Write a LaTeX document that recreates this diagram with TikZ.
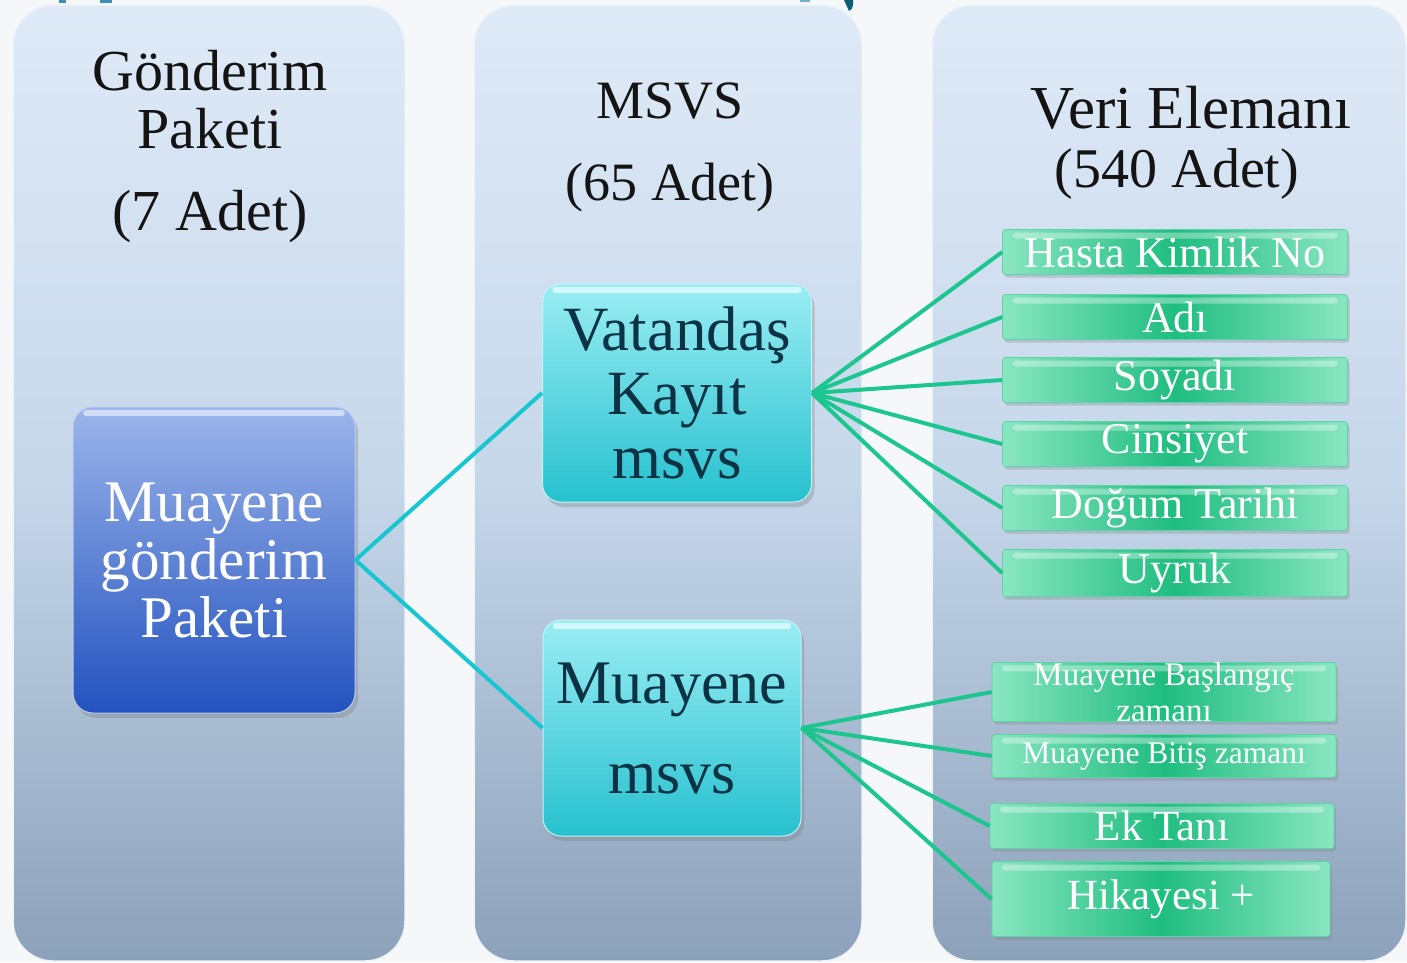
\documentclass[tikz,border=0pt]{standalone}
\usepackage{fontspec}
\setmainfont{Liberation Serif}
\usetikzlibrary{shadings,shadows}
\definecolor{bgc}{HTML}{F6F7F8}
\definecolor{colTop}{HTML}{DFEAF7}
\definecolor{colMid}{HTML}{C6D7EA}
\definecolor{colBot}{HTML}{8CA1BA}
\definecolor{colRim}{HTML}{EEF4FB}
\definecolor{blueTop}{HTML}{9CB5EA}
\definecolor{blueBot}{HTML}{2352BF}
\definecolor{cyanTop}{HTML}{9AEDF3}
\definecolor{cyanBot}{HTML}{27C1CF}
\definecolor{cyanText}{HTML}{0B3345}
\definecolor{gEdge}{HTML}{8AE6C2}
\definecolor{gMid}{HTML}{1FBD80}
\definecolor{gLine}{HTML}{5FD3A6}
\definecolor{cyanLink}{HTML}{17C6D0}
\definecolor{greenLink}{HTML}{1CC68E}
\definecolor{topBlue}{HTML}{3A8FB5}
\definecolor{topTeal}{HTML}{0D5F78}
\begin{document}
\begin{tikzpicture}[x=1pt,y=-1pt,
  column/.style={top color=colTop, bottom color=colBot, middle color=colMid, draw=colRim, line width=1.5pt},
  header/.style={anchor=base, text=black!92, font=\fontsize{58}{62}\selectfont, inner sep=0pt},
  gloss/.style={path picture={\fill[white, opacity=#1, rounded corners=3pt]
      ([xshift=10pt,yshift=-3pt]path picture bounding box.north west) rectangle
      ([xshift=-10pt,yshift=-9pt]path picture bounding box.north east);}},
  paketbox/.style={rectangle, rounded corners=20pt, minimum width=282pt, minimum height=306pt,
     top color=blueTop, bottom color=blueBot, draw=blueTop!70!white, line width=1pt,
     text=white, align=center, inner sep=0pt, font=\fontsize{59}{58}\selectfont, gloss=0.55,
     drop shadow={shadow xshift=3pt, shadow yshift=-5pt, opacity=0.35}},
  msvsbox/.style={rectangle, rounded corners=18pt, top color=cyanTop, bottom color=cyanBot,
     draw=cyanTop!60!white, line width=1pt, text=cyanText, align=center, inner sep=0pt, gloss=0.6,
     drop shadow={shadow xshift=3pt, shadow yshift=-5pt, opacity=0.35}},
  gbox/.style={rectangle, rounded corners=3pt, minimum width=345pt, minimum height=45pt,
     left color=gEdge, right color=gEdge, middle color=gMid, draw=gLine, line width=0.8pt,
     text=white, align=center, inner sep=0pt, font=\fontsize{44}{48}\selectfont, gloss=0.35,
     drop shadow={shadow xshift=2pt, shadow yshift=-3pt, opacity=0.3}},
  clink/.style={draw=cyanLink, line width=4pt},
  glink/.style={draw=greenLink, line width=4pt}]
\useasboundingbox (0,0) rectangle (1407,962);
\fill[bgc] (0,0) rectangle (1407,962);
% small cut-off shapes at the top edge
\fill[topBlue] (59,0) rectangle (66,3);
\fill[topBlue] (100,0) rectangle (112,3);
\fill[topBlue!70!white] (800,0) rectangle (810,2);
\fill[topTeal] (844,0) -- (853,0) -- (853,5) .. controls (852,9) .. (849,11) .. controls (846,6) .. (844,0) -- cycle;
% columns
\shade[column, rounded corners=40pt] (13,5) rectangle (405,961);
\shade[column, rounded corners=40pt] (474,5) rectangle (862,961);
\shade[column, rounded corners=40pt] (932,5) rectangle (1406,961);
% column headers
\node[header] (h1a) at (210,90) {Gönderim};
\node[header] (h1b) at (210,148) {Paketi};
\node[header] (h1c) at (210,230) {(7 Adet)};
\node[header, font=\fontsize{54}{58}\selectfont] (h2a) at (670,118) {MSVS};
\node[header, font=\fontsize{54}{58}\selectfont] (h2b) at (670,200) {(65 Adet)};
\node[header, font=\fontsize{61}{64}\selectfont] (h3a) at (1191,128) {Veri Elemanı};
\node[header, font=\fontsize{56}{60}\selectfont] (h3b) at (1177,187) {(540 Adet)};
% main nodes
\node[paketbox] (paket) at (214,560) {Muayene\\gönderim\\Paketi};
\node[msvsbox, minimum width=269pt, minimum height=218pt, font=\fontsize{63}{64}\selectfont] (vat) at (677,393) {Vatandaş\\Kayıt\\msvs};
\node[msvsbox, minimum width=258pt, minimum height=216pt, font=\fontsize{62}{90}\selectfont] (mua) at (672,728) {Muayene\\msvs};
% data elements
\node[gbox] (hasta) at (1175,252) {Hasta Kimlik No};
\node[gbox] (adi) at (1175,317) {Adı};
\node[gbox] (soyadi) at (1175,380) {Soyadı};
\node[gbox] (cins) at (1175,444) {Cinsiyet};
\node[gbox] (dogum) at (1175,508) {Doğum Tarihi};
\node[gbox, minimum height=47pt] (uyruk) at (1175,573) {Uyruk};
\node[gbox, minimum width=344pt, font=\fontsize{33}{36}\selectfont] (basla) at (1164,692) {Muayene Başlangıç\\zamanı};
\node[gbox, minimum width=344pt, minimum height=43pt, font=\fontsize{31.5}{34}\selectfont] (bitis) at (1164,756) {Muayene Bitiş zamanı};
\node[gbox, minimum width=344pt, font=\fontsize{43}{46}\selectfont] (ektani) at (1162,826) {Ek Tanı};
\node[gbox, minimum width=338pt, minimum height=75pt, font=\fontsize{43}{46}\selectfont] (hikaye) at (1161,899) {Hikayesi +};
% connectors
\draw[clink] (paket.east) -- (vat.west);
\draw[clink] (paket.east) -- (mua.west);
\foreach \t in {hasta,adi,soyadi,cins,dogum,uyruk}
  \draw[glink] (vat.east) -- (\t.west);
\foreach \t in {basla,bitis,ektani,hikaye}
  \draw[glink] (mua.east) -- (\t.west);
\end{tikzpicture}
\end{document}
